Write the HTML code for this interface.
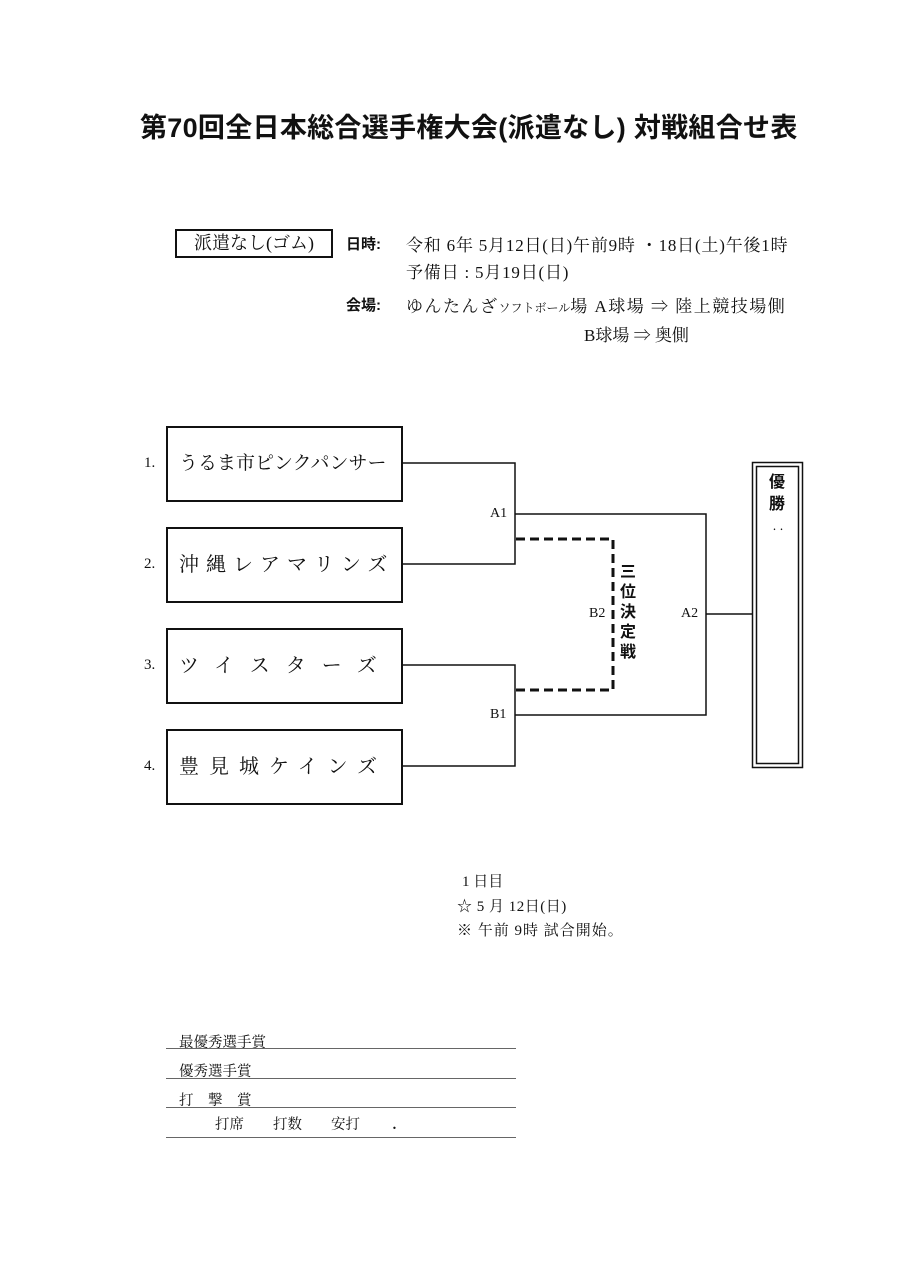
<!DOCTYPE html>
<html><head><meta charset="utf-8"><style>
body{margin:0;background:#fff;}
#p{position:relative;width:905px;height:1280px;overflow:hidden;font-family:"Liberation Serif","Noto Serif CJK SC",serif;color:#111;}
.t{position:absolute;white-space:nowrap;}
.s{font-family:"Liberation Sans","Noto Sans CJK JP",sans-serif;}
.box{position:absolute;left:166px;border:2px solid #111;font-size:19px;line-height:72px;padding-left:11px;box-sizing:border-box;width:237px;height:76px;white-space:nowrap;overflow:hidden;}
</style></head><body><div id="p">
<div class="t s" style="left:140px;top:106px;font-size:27px;font-weight:bold;letter-spacing:0.3px;">第70回全日本総合選手権大会(派遣なし) 対戦組合せ表</div>
<div class="t" style="left:175px;top:229px;width:158px;height:29px;border:2px solid #111;box-sizing:border-box;font-size:18px;line-height:25px;text-align:center;">派遣なし(ゴム)</div>
<div class="t s" style="left:346px;top:233px;font-size:15px;font-weight:bold;">日時:</div>
<div class="t" style="left:406px;top:231px;font-size:17px;letter-spacing:0.8px;">令和 6年 5月12日(日)午前9時 ・18日(土)午後1時</div>
<div class="t" style="left:406px;top:258px;font-size:17px;letter-spacing:0.8px;">予備日 : 5月19日(日)</div>
<div class="t s" style="left:346px;top:294px;font-size:15px;font-weight:bold;">会場:</div>
<div class="t" style="left:406px;top:292px;font-size:17px;letter-spacing:1.5px;">ゆんたんざ<span style="font-size:12px;letter-spacing:0">ソフトボール</span>場 A球場 ⇒ 陸上競技場側</div>
<div class="t" style="left:584px;top:321px;font-size:17px;">B球場 ⇒ 奥側</div>

<div class="t" style="left:144px;top:455px;font-size:15px;">1.</div>
<div class="t" style="left:144px;top:556px;font-size:15px;">2.</div>
<div class="t" style="left:144px;top:657px;font-size:15px;">3.</div>
<div class="t" style="left:144px;top:758px;font-size:15px;">4.</div>
<div class="box" style="top:426px;letter-spacing:0px;">うるま市ピンクパンサー</div>
<div class="box" style="top:527px;letter-spacing:7px;font-size:20px;">沖縄レアマリンズ</div>
<div class="box" style="top:628px;letter-spacing:16px;font-size:20px;">ツイスターズ</div>
<div class="box" style="top:729px;letter-spacing:10px;font-size:20px;">豊見城ケインズ</div>

<svg style="position:absolute;left:0;top:0" width="905" height="1280">
<g stroke="#111" stroke-width="1.5" fill="none">
<polyline points="402,463 515,463 515,564 402,564"/>
<polyline points="402,665 515,665 515,766 402,766"/>
<polyline points="515,514 706,514 706,715 515,715"/>
<line x1="706" y1="614" x2="753" y2="614"/>
<rect x="752.5" y="462.5" width="50" height="305"/>
<rect x="756.5" y="466.5" width="42" height="297"/>
</g>
<polyline points="516,539 613,539 613,690 516,690" stroke="#111" stroke-width="3" fill="none" stroke-dasharray="9,5"/>
</svg>
<div class="t" style="left:490px;top:506px;font-size:14px;">A1</div>
<div class="t" style="left:490px;top:707px;font-size:14px;">B1</div>
<div class="t" style="left:589px;top:606px;font-size:14px;">B2</div>
<div class="t" style="left:681px;top:606px;font-size:14px;">A2</div>
<div class="t s" style="left:620px;top:563px;font-size:16px;line-height:20px;font-weight:bold;white-space:normal;width:18px;">三位決定戦</div>
<div class="t s" style="left:769px;top:472px;font-size:16px;line-height:22px;font-weight:bold;white-space:normal;width:18px;">優勝</div>
<div class="t" style="left:771px;top:520px;font-size:14px;">‥</div>

<div class="t" style="left:462px;top:870px;font-size:15px;">1 日目</div>
<div class="t" style="left:457px;top:895px;font-size:15px;letter-spacing:0.5px;">☆ 5 月 12日(日)</div>
<div class="t" style="left:457px;top:919px;font-size:15px;letter-spacing:1px;">※ 午前 9時 試合開始。</div>

<div class="t" style="left:179px;top:1031px;font-size:14.5px;">最優秀選手賞</div>
<div class="t" style="left:179px;top:1060px;font-size:14.5px;">優秀選手賞</div>
<div class="t" style="left:179px;top:1089px;font-size:14.5px;">打　撃　賞</div>
<div class="t" style="left:215px;top:1113px;font-size:14.5px;">打席　　打数　　安打　　 <b>.</b></div>
<div style="position:absolute;left:166px;top:1048px;width:350px;border-top:1px solid #666;"></div>
<div style="position:absolute;left:166px;top:1078px;width:350px;border-top:1px solid #666;"></div>
<div style="position:absolute;left:166px;top:1107px;width:350px;border-top:1px solid #666;"></div>
<div style="position:absolute;left:166px;top:1137px;width:350px;border-top:1px solid #666;"></div>
</div></body></html>
